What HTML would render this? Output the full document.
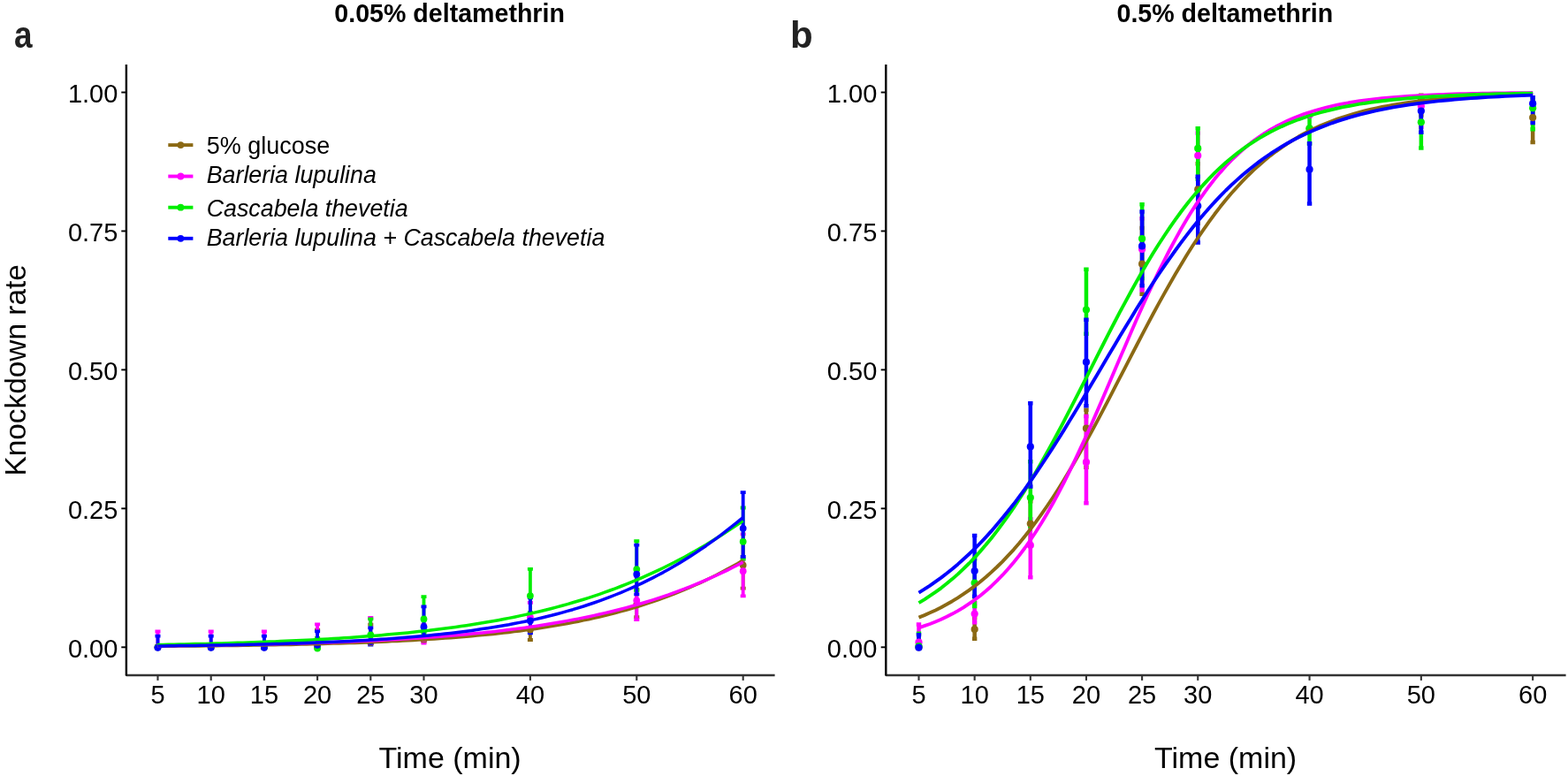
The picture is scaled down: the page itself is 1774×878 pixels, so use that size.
<!DOCTYPE html>
<html><head><meta charset="utf-8"><style>html,body{margin:0;padding:0;background:#fff;}svg{display:block}</style></head>
<body><svg width="1774" height="878" viewBox="0 0 1774 878" font-family="'Liberation Sans', Arial, sans-serif" fill="#000">
<rect width="1774" height="878" fill="#fff"/>
<text x="378.3" y="24.6" font-size="28.6" font-weight="bold">0.05% deltamethrin</text>
<text x="1263.5" y="24.6" font-size="28.6" font-weight="bold">0.5% deltamethrin</text>
<text transform="translate(16.1 54.4) scale(0.88 1.02)" font-size="42" font-weight="bold" fill="#222">a</text>
<text x="894" y="54.3" font-size="42" font-weight="bold" fill="#222">b</text>
<text transform="translate(28.5 418.9) rotate(-90)" text-anchor="middle" font-size="33.4">Knockdown rate</text>
<text x="509.1" y="868.5" text-anchor="middle" font-size="34">Time (min)</text>
<text x="1386.6" y="868.5" text-anchor="middle" font-size="34">Time (min)</text>
<path d="M178.50 732.10V730.90M175.50 730.90h6.0M175.50 732.10h6.0M238.70 732.10V730.90M235.70 730.90h6.0M235.70 732.10h6.0M298.90 732.10V730.90M295.90 730.90h6.0M295.90 732.10h6.0M359.10 732.10V712.60M356.10 712.60h6.0M356.10 732.10h6.0M419.30 728.10V706.70M416.30 706.70h6.0M416.30 728.10h6.0M479.50 726.10V713.90M476.50 713.90h6.0M476.50 726.10h6.0M599.90 724.00V701.90M596.90 701.90h6.0M596.90 724.00h6.0M720.30 698.10V666.90M717.30 666.90h6.0M717.30 698.10h6.0M840.70 665.60V611.90M837.70 611.90h6.0M837.70 665.60h6.0" stroke="#8B6914" stroke-width="3.8" fill="none"/>
<path d="M178.50 732.10V714.50M175.50 714.50h6.0M175.50 732.10h6.0M238.70 732.10V714.50M235.70 714.50h6.0M235.70 732.10h6.0M298.90 732.10V714.50M295.90 714.50h6.0M295.90 732.10h6.0M359.10 732.10V706.40M356.10 706.40h6.0M356.10 732.10h6.0M419.30 728.10V699.00M416.30 699.00h6.0M416.30 728.10h6.0M479.50 727.70V706.90M476.50 706.90h6.0M476.50 727.70h6.0M599.90 710.10V681.90M596.90 681.90h6.0M596.90 710.10h6.0M720.30 701.10V651.90M717.30 651.90h6.0M717.30 701.10h6.0M840.70 674.40V604.40M837.70 604.40h6.0M837.70 674.40h6.0" stroke="#FF00FF" stroke-width="3.8" fill="none"/>
<path d="M178.50 732.10V730.90M175.50 730.90h6.0M175.50 732.10h6.0M238.70 732.10V730.90M235.70 730.90h6.0M235.70 732.10h6.0M298.90 732.10V730.90M295.90 730.90h6.0M295.90 732.10h6.0M359.10 732.10V721.90M356.10 721.90h6.0M356.10 732.10h6.0M419.30 726.10V700.40M416.30 700.40h6.0M416.30 726.10h6.0M479.50 716.10V675.10M476.50 675.10h6.0M476.50 716.10h6.0M599.90 693.10V643.80M596.90 643.80h6.0M596.90 693.10h6.0M720.30 668.10V612.20M717.30 612.20h6.0M717.30 668.10h6.0M840.70 632.60V574.50M837.70 574.50h6.0M837.70 632.60h6.0" stroke="#00EE00" stroke-width="3.8" fill="none"/>
<path d="M178.50 732.10V719.70M175.50 719.70h6.0M175.50 732.10h6.0M238.70 732.10V719.70M235.70 719.70h6.0M235.70 732.10h6.0M298.90 732.10V719.70M295.90 719.70h6.0M295.90 732.10h6.0M359.10 732.10V714.40M356.10 714.40h6.0M356.10 732.10h6.0M419.30 729.60V710.30M416.30 710.30h6.0M416.30 729.60h6.0M479.50 723.10V686.40M476.50 686.40h6.0M476.50 723.10h6.0M599.90 716.40V676.40M596.90 676.40h6.0M596.90 716.40h6.0M720.30 672.40V616.70M717.30 616.70h6.0M717.30 672.40h6.0M840.70 629.80V557.10M837.70 557.10h6.0M837.70 629.80h6.0" stroke="#0000FF" stroke-width="3.8" fill="none"/>
<circle cx="178.50" cy="732.30" r="3.9" fill="#8B6914"/>
<circle cx="238.70" cy="732.30" r="3.9" fill="#8B6914"/>
<circle cx="298.90" cy="732.30" r="3.9" fill="#8B6914"/>
<circle cx="359.10" cy="732.30" r="3.9" fill="#8B6914"/>
<circle cx="419.30" cy="727.00" r="3.9" fill="#8B6914"/>
<circle cx="479.50" cy="723.40" r="3.9" fill="#8B6914"/>
<circle cx="599.90" cy="712.50" r="3.9" fill="#8B6914"/>
<circle cx="720.30" cy="684.00" r="3.9" fill="#8B6914"/>
<circle cx="840.70" cy="639.40" r="3.9" fill="#8B6914"/>
<circle cx="178.50" cy="732.30" r="3.9" fill="#FF00FF"/>
<circle cx="238.70" cy="732.30" r="3.9" fill="#FF00FF"/>
<circle cx="298.90" cy="732.30" r="3.9" fill="#FF00FF"/>
<circle cx="359.10" cy="729.50" r="3.9" fill="#FF00FF"/>
<circle cx="419.30" cy="726.00" r="3.9" fill="#FF00FF"/>
<circle cx="479.50" cy="722.30" r="3.9" fill="#FF00FF"/>
<circle cx="599.90" cy="698.30" r="3.9" fill="#FF00FF"/>
<circle cx="720.30" cy="679.40" r="3.9" fill="#FF00FF"/>
<circle cx="840.70" cy="646.20" r="3.9" fill="#FF00FF"/>
<circle cx="178.50" cy="732.30" r="3.9" fill="#00EE00"/>
<circle cx="238.70" cy="732.30" r="3.9" fill="#00EE00"/>
<circle cx="298.90" cy="732.30" r="3.9" fill="#00EE00"/>
<circle cx="359.10" cy="733.50" r="3.9" fill="#00EE00"/>
<circle cx="419.30" cy="718.40" r="3.9" fill="#00EE00"/>
<circle cx="479.50" cy="700.40" r="3.9" fill="#00EE00"/>
<circle cx="599.90" cy="674.10" r="3.9" fill="#00EE00"/>
<circle cx="720.30" cy="644.10" r="3.9" fill="#00EE00"/>
<circle cx="840.70" cy="612.80" r="3.9" fill="#00EE00"/>
<circle cx="178.50" cy="732.80" r="3.9" fill="#0000FF"/>
<circle cx="238.70" cy="732.80" r="3.9" fill="#0000FF"/>
<circle cx="298.90" cy="732.80" r="3.9" fill="#0000FF"/>
<circle cx="359.10" cy="729.80" r="3.9" fill="#0000FF"/>
<circle cx="419.30" cy="726.00" r="3.9" fill="#0000FF"/>
<circle cx="479.50" cy="709.20" r="3.9" fill="#0000FF"/>
<circle cx="599.90" cy="702.40" r="3.9" fill="#0000FF"/>
<circle cx="720.30" cy="649.70" r="3.9" fill="#0000FF"/>
<circle cx="840.70" cy="597.80" r="3.9" fill="#0000FF"/>
<polyline points="178.5,731.3 184.5,731.3 190.5,731.2 196.6,731.2 202.6,731.1 208.6,731.1 214.6,731.0 220.6,730.9 226.7,730.9 232.7,730.8 238.7,730.8 244.7,730.7 250.7,730.6 256.8,730.5 262.8,730.5 268.8,730.4 274.8,730.3 280.8,730.2 286.9,730.1 292.9,730.0 298.9,729.9 304.9,729.8 310.9,729.7 317.0,729.6 323.0,729.5 329.0,729.4 335.0,729.2 341.0,729.1 347.1,729.0 353.1,728.8 359.1,728.7 365.1,728.5 371.1,728.3 377.2,728.1 383.2,728.0 389.2,727.8 395.2,727.6 401.2,727.4 407.3,727.2 413.3,726.9 419.3,726.7 425.3,726.4 431.3,726.2 437.4,725.9 443.4,725.6 449.4,725.4 455.4,725.1 461.4,724.7 467.5,724.4 473.5,724.1 479.5,723.7 485.5,723.3 491.5,722.9 497.6,722.5 503.6,722.1 509.6,721.7 515.6,721.2 521.6,720.7 527.7,720.2 533.7,719.7 539.7,719.1 545.7,718.6 551.7,718.0 557.8,717.4 563.8,716.7 569.8,716.1 575.8,715.4 581.8,714.6 587.9,713.9 593.9,713.1 599.9,712.3 605.9,711.4 611.9,710.5 618.0,709.6 624.0,708.6 630.0,707.6 636.0,706.6 642.0,705.5 648.1,704.3 654.1,703.2 660.1,701.9 666.1,700.7 672.1,699.3 678.2,698.0 684.2,696.5 690.2,695.0 696.2,693.5 702.2,691.9 708.3,690.2 714.3,688.5 720.3,686.7 726.3,684.8 732.3,682.9 738.4,680.9 744.4,678.8 750.4,676.7 756.4,674.4 762.4,672.1 768.5,669.7 774.5,667.2 780.5,664.7 786.5,662.0 792.5,659.3 798.6,656.4 804.6,653.5 810.6,650.5 816.6,647.3 822.6,644.1 828.7,640.8 834.7,637.4 840.7,633.8" fill="none" stroke="#8B6914" stroke-width="3.5" stroke-linejoin="round"/>
<polyline points="178.5,730.7 184.5,730.7 190.5,730.6 196.6,730.6 202.6,730.5 208.6,730.4 214.6,730.3 220.6,730.3 226.7,730.2 232.7,730.1 238.7,730.0 244.7,729.9 250.7,729.8 256.8,729.7 262.8,729.6 268.8,729.5 274.8,729.4 280.8,729.3 286.9,729.2 292.9,729.1 298.9,728.9 304.9,728.8 310.9,728.7 317.0,728.5 323.0,728.4 329.0,728.2 335.0,728.0 341.0,727.9 347.1,727.7 353.1,727.5 359.1,727.3 365.1,727.1 371.1,726.9 377.2,726.7 383.2,726.5 389.2,726.3 395.2,726.0 401.2,725.8 407.3,725.5 413.3,725.3 419.3,725.0 425.3,724.7 431.3,724.4 437.4,724.1 443.4,723.8 449.4,723.4 455.4,723.1 461.4,722.7 467.5,722.3 473.5,722.0 479.5,721.5 485.5,721.1 491.5,720.7 497.6,720.2 503.6,719.8 509.6,719.3 515.6,718.8 521.6,718.3 527.7,717.7 533.7,717.1 539.7,716.6 545.7,715.9 551.7,715.3 557.8,714.7 563.8,714.0 569.8,713.3 575.8,712.5 581.8,711.8 587.9,711.0 593.9,710.2 599.9,709.3 605.9,708.4 611.9,707.5 618.0,706.6 624.0,705.6 630.0,704.6 636.0,703.5 642.0,702.4 648.1,701.3 654.1,700.1 660.1,698.9 666.1,697.7 672.1,696.4 678.2,695.0 684.2,693.6 690.2,692.2 696.2,690.7 702.2,689.2 708.3,687.6 714.3,685.9 720.3,684.2 726.3,682.5 732.3,680.7 738.4,678.8 744.4,676.8 750.4,674.8 756.4,672.8 762.4,670.6 768.5,668.4 774.5,666.2 780.5,663.8 786.5,661.4 792.5,658.9 798.6,656.3 804.6,653.7 810.6,651.0 816.6,648.2 822.6,645.3 828.7,642.3 834.7,639.3 840.7,636.1" fill="none" stroke="#FF00FF" stroke-width="3.5" stroke-linejoin="round"/>
<polyline points="178.5,729.5 184.5,729.4 190.5,729.3 196.6,729.2 202.6,729.0 208.6,728.9 214.6,728.8 220.6,728.6 226.7,728.5 232.7,728.4 238.7,728.2 244.7,728.0 250.7,727.9 256.8,727.7 262.8,727.5 268.8,727.3 274.8,727.2 280.8,727.0 286.9,726.8 292.9,726.5 298.9,726.3 304.9,726.1 310.9,725.9 317.0,725.6 323.0,725.3 329.0,725.1 335.0,724.8 341.0,724.5 347.1,724.2 353.1,723.9 359.1,723.6 365.1,723.3 371.1,722.9 377.2,722.6 383.2,722.2 389.2,721.8 395.2,721.4 401.2,721.0 407.3,720.5 413.3,720.1 419.3,719.6 425.3,719.2 431.3,718.7 437.4,718.1 443.4,717.6 449.4,717.0 455.4,716.5 461.4,715.9 467.5,715.3 473.5,714.6 479.5,713.9 485.5,713.3 491.5,712.5 497.6,711.8 503.6,711.0 509.6,710.2 515.6,709.4 521.6,708.6 527.7,707.7 533.7,706.8 539.7,705.8 545.7,704.8 551.7,703.8 557.8,702.8 563.8,701.7 569.8,700.5 575.8,699.4 581.8,698.2 587.9,696.9 593.9,695.6 599.9,694.3 605.9,692.9 611.9,691.5 618.0,690.0 624.0,688.5 630.0,686.9 636.0,685.3 642.0,683.6 648.1,681.8 654.1,680.0 660.1,678.2 666.1,676.3 672.1,674.3 678.2,672.3 684.2,670.2 690.2,668.0 696.2,665.8 702.2,663.5 708.3,661.1 714.3,658.7 720.3,656.2 726.3,653.6 732.3,650.9 738.4,648.2 744.4,645.4 750.4,642.5 756.4,639.5 762.4,636.5 768.5,633.4 774.5,630.2 780.5,626.9 786.5,623.5 792.5,620.0 798.6,616.5 804.6,612.8 810.6,609.1 816.6,605.3 822.6,601.4 828.7,597.4 834.7,593.3 840.7,589.2" fill="none" stroke="#00EE00" stroke-width="3.5" stroke-linejoin="round"/>
<polyline points="178.5,730.9 184.5,730.9 190.5,730.8 196.6,730.7 202.6,730.6 208.6,730.6 214.6,730.5 220.6,730.4 226.7,730.3 232.7,730.2 238.7,730.1 244.7,730.0 250.7,729.9 256.8,729.8 262.8,729.7 268.8,729.6 274.8,729.5 280.8,729.3 286.9,729.2 292.9,729.1 298.9,728.9 304.9,728.8 310.9,728.6 317.0,728.4 323.0,728.3 329.0,728.1 335.0,727.9 341.0,727.7 347.1,727.5 353.1,727.2 359.1,727.0 365.1,726.8 371.1,726.5 377.2,726.3 383.2,726.0 389.2,725.7 395.2,725.4 401.2,725.1 407.3,724.8 413.3,724.4 419.3,724.1 425.3,723.7 431.3,723.3 437.4,722.9 443.4,722.5 449.4,722.0 455.4,721.6 461.4,721.1 467.5,720.6 473.5,720.1 479.5,719.5 485.5,718.9 491.5,718.3 497.6,717.7 503.6,717.1 509.6,716.4 515.6,715.7 521.6,714.9 527.7,714.2 533.7,713.4 539.7,712.5 545.7,711.6 551.7,710.7 557.8,709.8 563.8,708.8 569.8,707.7 575.8,706.7 581.8,705.5 587.9,704.4 593.9,703.2 599.9,701.9 605.9,700.6 611.9,699.2 618.0,697.7 624.0,696.3 630.0,694.7 636.0,693.1 642.0,691.4 648.1,689.7 654.1,687.8 660.1,686.0 666.1,684.0 672.1,682.0 678.2,679.9 684.2,677.7 690.2,675.4 696.2,673.0 702.2,670.6 708.3,668.0 714.3,665.4 720.3,662.7 726.3,659.9 732.3,656.9 738.4,653.9 744.4,650.8 750.4,647.6 756.4,644.2 762.4,640.8 768.5,637.2 774.5,633.5 780.5,629.8 786.5,625.9 792.5,621.8 798.6,617.7 804.6,613.4 810.6,609.1 816.6,604.6 822.6,599.9 828.7,595.2 834.7,590.3 840.7,585.4" fill="none" stroke="#0000FF" stroke-width="3.5" stroke-linejoin="round"/>
<path d="M142.9 763.9 L876.6 763.9" fill="none" stroke="#333" stroke-width="2.5"/>
<path d="M142.9 73 L142.9 763.9" fill="none" stroke="#000" stroke-width="2.4"/>
<circle cx="142.9" cy="763.9" r="1.1" fill="#111"/>
<line x1="137.3" y1="732.30" x2="142.9" y2="732.30" stroke="#000" stroke-width="1.9"/>
<text x="133.4" y="743.70" text-anchor="end" font-size="29">0.00</text>
<line x1="137.3" y1="575.35" x2="142.9" y2="575.35" stroke="#000" stroke-width="1.9"/>
<text x="133.4" y="586.75" text-anchor="end" font-size="29">0.25</text>
<line x1="137.3" y1="418.40" x2="142.9" y2="418.40" stroke="#000" stroke-width="1.9"/>
<text x="133.4" y="429.80" text-anchor="end" font-size="29">0.50</text>
<line x1="137.3" y1="261.45" x2="142.9" y2="261.45" stroke="#000" stroke-width="1.9"/>
<text x="133.4" y="272.85" text-anchor="end" font-size="29">0.75</text>
<line x1="137.3" y1="104.50" x2="142.9" y2="104.50" stroke="#000" stroke-width="1.9"/>
<text x="133.4" y="115.90" text-anchor="end" font-size="29">1.00</text>
<line x1="178.50" y1="764" x2="178.50" y2="769.9" stroke="#333" stroke-width="2.1"/>
<text x="178.50" y="796.4" text-anchor="middle" font-size="29">5</text>
<line x1="238.70" y1="764" x2="238.70" y2="769.9" stroke="#333" stroke-width="2.1"/>
<text x="238.70" y="796.4" text-anchor="middle" font-size="29">10</text>
<line x1="298.90" y1="764" x2="298.90" y2="769.9" stroke="#333" stroke-width="2.1"/>
<text x="298.90" y="796.4" text-anchor="middle" font-size="29">15</text>
<line x1="359.10" y1="764" x2="359.10" y2="769.9" stroke="#333" stroke-width="2.1"/>
<text x="359.10" y="796.4" text-anchor="middle" font-size="29">20</text>
<line x1="419.30" y1="764" x2="419.30" y2="769.9" stroke="#333" stroke-width="2.1"/>
<text x="419.30" y="796.4" text-anchor="middle" font-size="29">25</text>
<line x1="479.50" y1="764" x2="479.50" y2="769.9" stroke="#333" stroke-width="2.1"/>
<text x="479.50" y="796.4" text-anchor="middle" font-size="29">30</text>
<line x1="599.90" y1="764" x2="599.90" y2="769.9" stroke="#333" stroke-width="2.1"/>
<text x="599.90" y="796.4" text-anchor="middle" font-size="29">40</text>
<line x1="720.30" y1="764" x2="720.30" y2="769.9" stroke="#333" stroke-width="2.1"/>
<text x="720.30" y="796.4" text-anchor="middle" font-size="29">50</text>
<line x1="840.70" y1="764" x2="840.70" y2="769.9" stroke="#333" stroke-width="2.1"/>
<text x="840.70" y="796.4" text-anchor="middle" font-size="29">60</text>
<path d="M1039.50 731.75V729.25M1036.80 729.25h5.4M1036.80 731.75h5.4M1102.65 722.65V699.25M1099.95 699.25h5.4M1099.95 722.65h5.4M1165.80 617.75V567.25M1163.10 567.25h5.4M1163.10 617.75h5.4M1228.95 528.65V463.75M1226.25 463.75h5.4M1226.25 528.65h5.4M1292.10 332.75V257.95M1289.40 257.95h5.4M1289.40 332.75h5.4M1355.25 252.75V185.15M1352.55 185.15h5.4M1352.55 252.75h5.4M1481.55 147.75V145.25M1478.85 145.25h5.4M1478.85 147.75h5.4M1607.85 130.15V107.75M1605.15 107.75h5.4M1605.15 130.15h5.4M1734.15 161.05V114.25M1731.45 114.25h5.4M1731.45 161.05h5.4" stroke="#8B6914" stroke-width="4.5" fill="none"/>
<path d="M1039.50 731.75V706.45M1036.80 706.45h5.4M1036.80 731.75h5.4M1102.65 704.35V682.25M1099.95 682.25h5.4M1099.95 704.35h5.4M1165.80 653.15V587.25M1163.10 587.25h5.4M1163.10 653.15h5.4M1228.95 569.35V470.95M1226.25 470.95h5.4M1226.25 569.35h5.4M1292.10 328.35V247.25M1289.40 247.25h5.4M1289.40 328.35h5.4M1355.25 212.75V150.45M1352.55 150.45h5.4M1352.55 212.75h5.4M1481.55 129.75V129.25M1478.85 129.25h5.4M1478.85 129.75h5.4M1607.85 143.75V110.25M1605.15 110.25h5.4M1605.15 143.75h5.4" stroke="#FF00FF" stroke-width="4.5" fill="none"/>
<path d="M1039.50 731.75V716.85M1036.80 716.85h5.4M1036.80 731.75h5.4M1102.65 685.95V632.25M1099.95 632.25h5.4M1099.95 685.95h5.4M1165.80 595.45V522.25M1163.10 522.25h5.4M1163.10 595.45h5.4M1228.95 377.75V304.85M1226.25 304.85h5.4M1226.25 377.75h5.4M1292.10 314.95V231.35M1289.40 231.35h5.4M1289.40 314.95h5.4M1355.25 202.55V145.35M1352.55 145.35h5.4M1352.55 202.55h5.4M1481.55 162.75V130.75M1478.85 130.75h5.4M1478.85 162.75h5.4M1607.85 167.45V114.25M1605.15 114.25h5.4M1605.15 167.45h5.4M1734.15 146.25V110.25M1731.45 110.25h5.4M1731.45 146.25h5.4" stroke="#00EE00" stroke-width="4.5" fill="none"/>
<path d="M1039.50 731.75V718.25M1036.80 718.25h5.4M1036.80 731.75h5.4M1102.65 674.75V606.05M1099.95 606.05h5.4M1099.95 674.75h5.4M1165.80 550.55V456.35M1163.10 456.35h5.4M1163.10 550.55h5.4M1228.95 459.25V361.65M1226.25 361.65h5.4M1226.25 459.25h5.4M1292.10 323.15V239.45M1289.40 239.45h5.4M1289.40 323.15h5.4M1355.25 274.55V199.75M1352.55 199.75h5.4M1352.55 274.55h5.4M1481.55 230.45V162.25M1478.85 162.25h5.4M1478.85 230.45h5.4M1607.85 149.75V112.25M1605.15 112.25h5.4M1605.15 149.75h5.4M1734.15 139.05V110.25M1731.45 110.25h5.4M1731.45 139.05h5.4" stroke="#0000FF" stroke-width="4.5" fill="none"/>
<circle cx="1039.50" cy="732.30" r="4.1" fill="#8B6914"/>
<circle cx="1102.65" cy="712.10" r="4.1" fill="#8B6914"/>
<circle cx="1165.80" cy="592.60" r="4.1" fill="#8B6914"/>
<circle cx="1228.95" cy="484.70" r="4.1" fill="#8B6914"/>
<circle cx="1292.10" cy="298.70" r="4.1" fill="#8B6914"/>
<circle cx="1355.25" cy="214.30" r="4.1" fill="#8B6914"/>
<circle cx="1481.55" cy="145.50" r="4.1" fill="#8B6914"/>
<circle cx="1607.85" cy="112.00" r="4.1" fill="#8B6914"/>
<circle cx="1734.15" cy="133.10" r="4.1" fill="#8B6914"/>
<circle cx="1039.50" cy="726.70" r="4.1" fill="#FF00FF"/>
<circle cx="1102.65" cy="694.60" r="4.1" fill="#FF00FF"/>
<circle cx="1165.80" cy="616.90" r="4.1" fill="#FF00FF"/>
<circle cx="1228.95" cy="522.90" r="4.1" fill="#FF00FF"/>
<circle cx="1292.10" cy="282.00" r="4.1" fill="#FF00FF"/>
<circle cx="1355.25" cy="176.00" r="4.1" fill="#FF00FF"/>
<circle cx="1481.55" cy="130.00" r="4.1" fill="#FF00FF"/>
<circle cx="1607.85" cy="120.00" r="4.1" fill="#FF00FF"/>
<circle cx="1039.50" cy="731.00" r="4.1" fill="#00EE00"/>
<circle cx="1102.65" cy="659.50" r="4.1" fill="#00EE00"/>
<circle cx="1165.80" cy="563.10" r="4.1" fill="#00EE00"/>
<circle cx="1228.95" cy="350.50" r="4.1" fill="#00EE00"/>
<circle cx="1292.10" cy="270.10" r="4.1" fill="#00EE00"/>
<circle cx="1355.25" cy="167.90" r="4.1" fill="#00EE00"/>
<circle cx="1481.55" cy="145.40" r="4.1" fill="#00EE00"/>
<circle cx="1607.85" cy="138.30" r="4.1" fill="#00EE00"/>
<circle cx="1734.15" cy="122.30" r="4.1" fill="#00EE00"/>
<circle cx="1039.50" cy="732.70" r="4.1" fill="#0000FF"/>
<circle cx="1102.65" cy="646.00" r="4.1" fill="#0000FF"/>
<circle cx="1165.80" cy="505.40" r="4.1" fill="#0000FF"/>
<circle cx="1228.95" cy="409.70" r="4.1" fill="#0000FF"/>
<circle cx="1292.10" cy="278.40" r="4.1" fill="#0000FF"/>
<circle cx="1355.25" cy="233.00" r="4.1" fill="#0000FF"/>
<circle cx="1481.55" cy="191.70" r="4.1" fill="#0000FF"/>
<circle cx="1607.85" cy="125.50" r="4.1" fill="#0000FF"/>
<circle cx="1734.15" cy="117.20" r="4.1" fill="#0000FF"/>
<polyline points="1039.5,698.6 1045.8,696.1 1052.1,693.3 1058.4,690.4 1064.8,687.2 1071.1,683.8 1077.4,680.2 1083.7,676.3 1090.0,672.2 1096.3,667.8 1102.7,663.2 1109.0,658.2 1115.3,653.0 1121.6,647.4 1127.9,641.5 1134.2,635.3 1140.5,628.7 1146.9,621.8 1153.2,614.5 1159.5,606.8 1165.8,598.8 1172.1,590.4 1178.4,581.6 1184.7,572.5 1191.1,563.0 1197.4,553.2 1203.7,543.0 1210.0,532.6 1216.3,521.8 1222.6,510.7 1229.0,499.4 1235.3,487.8 1241.6,476.1 1247.9,464.2 1254.2,452.1 1260.5,439.9 1266.8,427.7 1273.2,415.4 1279.5,403.2 1285.8,391.0 1292.1,378.9 1298.4,366.9 1304.7,355.0 1311.0,343.4 1317.4,331.9 1323.7,320.7 1330.0,309.8 1336.3,299.2 1342.6,288.8 1348.9,278.8 1355.2,269.2 1361.6,259.9 1367.9,250.9 1374.2,242.3 1380.5,234.1 1386.8,226.3 1393.1,218.8 1399.5,211.7 1405.8,204.9 1412.1,198.5 1418.4,192.4 1424.7,186.7 1431.0,181.2 1437.3,176.1 1443.7,171.3 1450.0,166.8 1456.3,162.6 1462.6,158.6 1468.9,154.8 1475.2,151.3 1481.5,148.1 1487.9,145.0 1494.2,142.1 1500.5,139.5 1506.8,137.0 1513.1,134.7 1519.4,132.5 1525.8,130.5 1532.1,128.6 1538.4,126.9 1544.7,125.2 1551.0,123.7 1557.3,122.3 1563.6,121.0 1570.0,119.8 1576.3,118.7 1582.6,117.6 1588.9,116.7 1595.2,115.8 1601.5,114.9 1607.8,114.2 1614.2,113.5 1620.5,112.8 1626.8,112.2 1633.1,111.6 1639.4,111.1 1645.7,110.6 1652.1,110.1 1658.4,109.7 1664.7,109.3 1671.0,109.0 1677.3,108.6 1683.6,108.3 1689.9,108.0 1696.3,107.8 1702.6,107.5 1708.9,107.3 1715.2,107.1 1721.5,106.9 1727.8,106.7 1734.2,106.6" fill="none" stroke="#8B6914" stroke-width="3.9" stroke-linejoin="round"/>
<polyline points="1039.5,710.3 1045.8,708.2 1052.1,706.0 1058.4,703.5 1064.8,700.8 1071.1,697.8 1077.4,694.6 1083.7,691.1 1090.0,687.3 1096.3,683.2 1102.7,678.8 1109.0,674.0 1115.3,668.8 1121.6,663.2 1127.9,657.2 1134.2,650.7 1140.5,643.8 1146.9,636.3 1153.2,628.4 1159.5,620.0 1165.8,611.0 1172.1,601.5 1178.4,591.5 1184.7,580.9 1191.1,569.8 1197.4,558.1 1203.7,546.0 1210.0,533.4 1216.3,520.4 1222.6,506.9 1229.0,493.1 1235.3,479.0 1241.6,464.6 1247.9,450.0 1254.2,435.3 1260.5,420.5 1266.8,405.7 1273.2,390.9 1279.5,376.3 1285.8,361.8 1292.1,347.6 1298.4,333.7 1304.7,320.2 1311.0,307.0 1317.4,294.3 1323.7,282.0 1330.0,270.3 1336.3,259.0 1342.6,248.3 1348.9,238.1 1355.2,228.4 1361.6,219.3 1367.9,210.7 1374.2,202.6 1380.5,195.1 1386.8,188.0 1393.1,181.4 1399.5,175.3 1405.8,169.5 1412.1,164.2 1418.4,159.3 1424.7,154.8 1431.0,150.6 1437.3,146.7 1443.7,143.1 1450.0,139.9 1456.3,136.8 1462.6,134.1 1468.9,131.5 1475.2,129.2 1481.5,127.0 1487.9,125.1 1494.2,123.3 1500.5,121.6 1506.8,120.1 1513.1,118.7 1519.4,117.5 1525.8,116.3 1532.1,115.3 1538.4,114.3 1544.7,113.5 1551.0,112.7 1557.3,111.9 1563.6,111.3 1570.0,110.7 1576.3,110.1 1582.6,109.6 1588.9,109.2 1595.2,108.7 1601.5,108.4 1607.8,108.0 1614.2,107.7 1620.5,107.4 1626.8,107.2 1633.1,106.9 1639.4,106.7 1645.7,106.5 1652.1,106.3 1658.4,106.2 1664.7,106.0 1671.0,105.9 1677.3,105.7 1683.6,105.6 1689.9,105.5 1696.3,105.4 1702.6,105.4 1708.9,105.3 1715.2,105.2 1721.5,105.1 1727.8,105.1 1734.2,105.0" fill="none" stroke="#FF00FF" stroke-width="3.9" stroke-linejoin="round"/>
<polyline points="1039.5,682.1 1045.8,678.3 1052.1,674.2 1058.4,669.9 1064.8,665.3 1071.1,660.3 1077.4,655.1 1083.7,649.6 1090.0,643.7 1096.3,637.5 1102.7,630.9 1109.0,623.9 1115.3,616.6 1121.6,608.9 1127.9,600.9 1134.2,592.4 1140.5,583.6 1146.9,574.4 1153.2,564.8 1159.5,554.9 1165.8,544.6 1172.1,533.9 1178.4,523.0 1184.7,511.8 1191.1,500.3 1197.4,488.5 1203.7,476.6 1210.0,464.4 1216.3,452.2 1222.6,439.8 1229.0,427.3 1235.3,414.9 1241.6,402.4 1247.9,390.0 1254.2,377.7 1260.5,365.5 1266.8,353.4 1273.2,341.6 1279.5,330.0 1285.8,318.6 1292.1,307.5 1298.4,296.8 1304.7,286.3 1311.0,276.2 1317.4,266.5 1323.7,257.1 1330.0,248.1 1336.3,239.5 1342.6,231.3 1348.9,223.4 1355.2,216.0 1361.6,208.9 1367.9,202.1 1374.2,195.7 1380.5,189.7 1386.8,184.0 1393.1,178.7 1399.5,173.6 1405.8,168.9 1412.1,164.4 1418.4,160.3 1424.7,156.4 1431.0,152.7 1437.3,149.3 1443.7,146.1 1450.0,143.1 1456.3,140.3 1462.6,137.7 1468.9,135.3 1475.2,133.1 1481.5,131.0 1487.9,129.0 1494.2,127.2 1500.5,125.5 1506.8,124.0 1513.1,122.5 1519.4,121.2 1525.8,120.0 1532.1,118.8 1538.4,117.7 1544.7,116.7 1551.0,115.8 1557.3,115.0 1563.6,114.2 1570.0,113.5 1576.3,112.8 1582.6,112.2 1588.9,111.6 1595.2,111.0 1601.5,110.5 1607.8,110.1 1614.2,109.7 1620.5,109.3 1626.8,108.9 1633.1,108.6 1639.4,108.3 1645.7,108.0 1652.1,107.7 1658.4,107.5 1664.7,107.2 1671.0,107.0 1677.3,106.8 1683.6,106.7 1689.9,106.5 1696.3,106.3 1702.6,106.2 1708.9,106.1 1715.2,106.0 1721.5,105.8 1727.8,105.7 1734.2,105.6" fill="none" stroke="#00EE00" stroke-width="3.9" stroke-linejoin="round"/>
<polyline points="1039.5,670.6 1045.8,666.7 1052.1,662.6 1058.4,658.2 1064.8,653.6 1071.1,648.8 1077.4,643.7 1083.7,638.4 1090.0,632.8 1096.3,627.0 1102.7,620.9 1109.0,614.5 1115.3,607.8 1121.6,600.9 1127.9,593.6 1134.2,586.1 1140.5,578.3 1146.9,570.3 1153.2,561.9 1159.5,553.3 1165.8,544.5 1172.1,535.4 1178.4,526.0 1184.7,516.5 1191.1,506.7 1197.4,496.7 1203.7,486.6 1210.0,476.3 1216.3,465.9 1222.6,455.4 1229.0,444.8 1235.3,434.1 1241.6,423.4 1247.9,412.7 1254.2,402.0 1260.5,391.4 1266.8,380.8 1273.2,370.3 1279.5,359.9 1285.8,349.6 1292.1,339.5 1298.4,329.5 1304.7,319.8 1311.0,310.2 1317.4,300.9 1323.7,291.8 1330.0,283.0 1336.3,274.4 1342.6,266.1 1348.9,258.0 1355.2,250.2 1361.6,242.7 1367.9,235.5 1374.2,228.6 1380.5,221.9 1386.8,215.5 1393.1,209.4 1399.5,203.6 1405.8,198.0 1412.1,192.7 1418.4,187.7 1424.7,182.9 1431.0,178.3 1437.3,174.0 1443.7,169.9 1450.0,166.0 1456.3,162.3 1462.6,158.8 1468.9,155.5 1475.2,152.4 1481.5,149.5 1487.9,146.7 1494.2,144.1 1500.5,141.7 1506.8,139.3 1513.1,137.2 1519.4,135.1 1525.8,133.2 1532.1,131.4 1538.4,129.7 1544.7,128.1 1551.0,126.6 1557.3,125.2 1563.6,123.8 1570.0,122.6 1576.3,121.4 1582.6,120.4 1588.9,119.3 1595.2,118.4 1601.5,117.5 1607.8,116.6 1614.2,115.9 1620.5,115.1 1626.8,114.4 1633.1,113.8 1639.4,113.2 1645.7,112.6 1652.1,112.1 1658.4,111.6 1664.7,111.1 1671.0,110.7 1677.3,110.3 1683.6,109.9 1689.9,109.6 1696.3,109.2 1702.6,108.9 1708.9,108.6 1715.2,108.4 1721.5,108.1 1727.8,107.9 1734.2,107.6" fill="none" stroke="#0000FF" stroke-width="3.9" stroke-linejoin="round"/>
<path d="M1002.3 763.9 L1771.6 763.9" fill="none" stroke="#333" stroke-width="2.5"/>
<path d="M1002.3 73 L1002.3 763.9" fill="none" stroke="#000" stroke-width="2.4"/>
<circle cx="1002.3" cy="763.9" r="1.1" fill="#111"/>
<line x1="996.7" y1="732.30" x2="1002.3" y2="732.30" stroke="#000" stroke-width="1.9"/>
<text x="992.3" y="743.70" text-anchor="end" font-size="29">0.00</text>
<line x1="996.7" y1="575.35" x2="1002.3" y2="575.35" stroke="#000" stroke-width="1.9"/>
<text x="992.3" y="586.75" text-anchor="end" font-size="29">0.25</text>
<line x1="996.7" y1="418.40" x2="1002.3" y2="418.40" stroke="#000" stroke-width="1.9"/>
<text x="992.3" y="429.80" text-anchor="end" font-size="29">0.50</text>
<line x1="996.7" y1="261.45" x2="1002.3" y2="261.45" stroke="#000" stroke-width="1.9"/>
<text x="992.3" y="272.85" text-anchor="end" font-size="29">0.75</text>
<line x1="996.7" y1="104.50" x2="1002.3" y2="104.50" stroke="#000" stroke-width="1.9"/>
<text x="992.3" y="115.90" text-anchor="end" font-size="29">1.00</text>
<line x1="1039.50" y1="764" x2="1039.50" y2="769.9" stroke="#333" stroke-width="2.1"/>
<text x="1039.50" y="796.4" text-anchor="middle" font-size="29">5</text>
<line x1="1102.65" y1="764" x2="1102.65" y2="769.9" stroke="#333" stroke-width="2.1"/>
<text x="1102.65" y="796.4" text-anchor="middle" font-size="29">10</text>
<line x1="1165.80" y1="764" x2="1165.80" y2="769.9" stroke="#333" stroke-width="2.1"/>
<text x="1165.80" y="796.4" text-anchor="middle" font-size="29">15</text>
<line x1="1228.95" y1="764" x2="1228.95" y2="769.9" stroke="#333" stroke-width="2.1"/>
<text x="1228.95" y="796.4" text-anchor="middle" font-size="29">20</text>
<line x1="1292.10" y1="764" x2="1292.10" y2="769.9" stroke="#333" stroke-width="2.1"/>
<text x="1292.10" y="796.4" text-anchor="middle" font-size="29">25</text>
<line x1="1355.25" y1="764" x2="1355.25" y2="769.9" stroke="#333" stroke-width="2.1"/>
<text x="1355.25" y="796.4" text-anchor="middle" font-size="29">30</text>
<line x1="1481.55" y1="764" x2="1481.55" y2="769.9" stroke="#333" stroke-width="2.1"/>
<text x="1481.55" y="796.4" text-anchor="middle" font-size="29">40</text>
<line x1="1607.85" y1="764" x2="1607.85" y2="769.9" stroke="#333" stroke-width="2.1"/>
<text x="1607.85" y="796.4" text-anchor="middle" font-size="29">50</text>
<line x1="1734.15" y1="764" x2="1734.15" y2="769.9" stroke="#333" stroke-width="2.1"/>
<text x="1734.15" y="796.4" text-anchor="middle" font-size="29">60</text>
<line x1="190.3" y1="164.1" x2="218.4" y2="164.1" stroke="#8B6914" stroke-width="3.9"/>
<circle cx="204.4" cy="164.1" r="3.9" fill="#8B6914"/>
<text x="233.7" y="174.4" font-size="27" font-style="normal">5% glucose</text>
<line x1="190.3" y1="199.5" x2="218.4" y2="199.5" stroke="#FF00FF" stroke-width="3.9"/>
<circle cx="204.4" cy="199.5" r="3.9" fill="#FF00FF"/>
<text x="233.7" y="206.7" font-size="26.8" font-style="italic">Barleria lupulina</text>
<line x1="190.3" y1="234.7" x2="218.4" y2="234.7" stroke="#00EE00" stroke-width="3.9"/>
<circle cx="204.4" cy="234.7" r="3.9" fill="#00EE00"/>
<text x="233.7" y="244.8" font-size="26.8" font-style="italic">Cascabela thevetia</text>
<line x1="190.3" y1="269.8" x2="218.4" y2="269.8" stroke="#0000FF" stroke-width="3.9"/>
<circle cx="204.4" cy="269.8" r="3.9" fill="#0000FF"/>
<text x="233.7" y="277.8" font-size="26.8" font-style="italic">Barleria lupulina + Cascabela thevetia</text>
</svg></body></html>
